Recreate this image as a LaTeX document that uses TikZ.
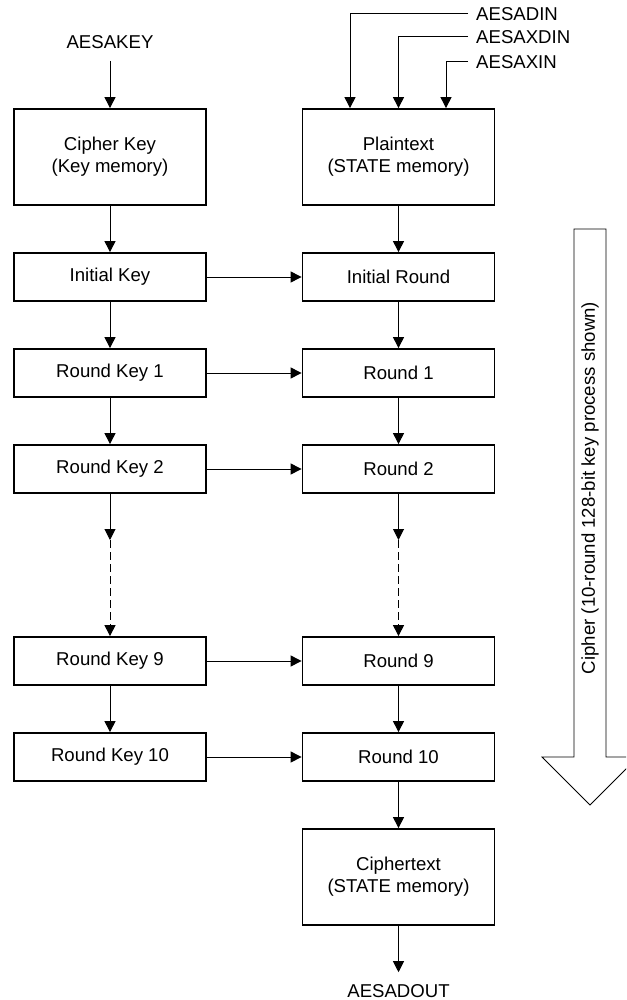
\documentclass[tikz,border=0pt]{standalone}
\usepackage{fontspec}
\setmainfont{Liberation Sans}
\usetikzlibrary{arrows.meta}

\begin{document}
\begin{tikzpicture}[x=1pt, y=-1pt,
    font=\fontsize{18.6}{22}\selectfont,
    blk/.style={draw, line width=1.8pt, minimum width=192pt, minimum height=48pt,
      inner sep=0pt, align=center},
    bigblk/.style={blk, minimum height=96pt},
    flow/.style={line width=1pt, -{Triangle[length=11pt,width=11pt]}},
    sig/.style={inner xsep=8pt, inner ysep=12pt}]
  \clip (0,0) rectangle (626,1000);

  % Key and state memories at the top
  \node[sig] (akey) at (110,42) {AESAKEY};
  \node[bigblk] (ckey) at (110,157) {Cipher Key\\(Key memory)};
  \node[bigblk] (ptxt) at (398.5,157) {Plaintext\\(STATE memory)};
  \draw[flow] (akey) -- (ckey);

  % Data inputs into the STATE memory
  \node[sig, anchor=west] (din) at (468,14) {AESADIN};
  \node[sig, anchor=west] (dxin) at (468,37) {AESAXDIN};
  \node[sig, anchor=west] (xin) at (468,62) {AESAXIN};
  \draw[flow] (din.west) -| ([xshift=-48.5pt]ptxt.north);
  \draw[flow] (dxin.west) -| (ptxt.north);
  \draw[flow] (xin.west) -| ([xshift=47.5pt]ptxt.north);

  % Key rows and round rows
  \foreach \y/\nm/\k/\r in {277/0/Initial Key/Initial Round, 373/1/Round Key 1/Round 1,
      469/2/Round Key 2/Round 2, 661/9/Round Key 9/Round 9, 757/10/Round Key 10/Round 10} {
    \node[blk] (k\nm) at (110,\y) {\k};
    \node[blk] (r\nm) at (398.5,\y) {\r};
    \draw[flow] (k\nm) -- (r\nm);
  }

  % Vertical flow
  \draw[flow] (ckey) -- (k0);
  \draw[flow] (ptxt) -- (r0);
  \foreach \a/\b in {0/1, 1/2, 9/10} {
    \draw[flow] (k\a) -- (k\b);
    \draw[flow] (r\a) -- (r\b);
  }

  % Rounds 3 to 8 left out
  \coordinate (kgap) at (110,540);
  \coordinate (rgap) at (398.5,540);
  \draw[flow] (k2) -- (kgap);
  \draw[flow] (r2) -- (rgap);
  \draw[flow, dash pattern=on 8pt off 4pt] (kgap) -- (k9);
  \draw[flow, dash pattern=on 8pt off 4pt] (rgap) -- (r9);

  % Output
  \node[bigblk] (ctxt) at (398.5,877) {Ciphertext\\(STATE memory)};
  \node[sig] (dout) at (398.5,991) {AESADOUT};
  \draw[flow] (r10) -- (ctxt);
  \draw[flow] (ctxt) -- (dout);

  % Big arrow on the right
  \draw[line width=0.8pt] (574,229) -- (606,229) -- (606,757) -- (638,757)
    -- (590,805) -- (542,757) -- (574,757) -- cycle;
  \node[rotate=90] (ctext) at (590,488) {Cipher (10-round 128-bit key process shown)};
\end{tikzpicture}
\end{document}
